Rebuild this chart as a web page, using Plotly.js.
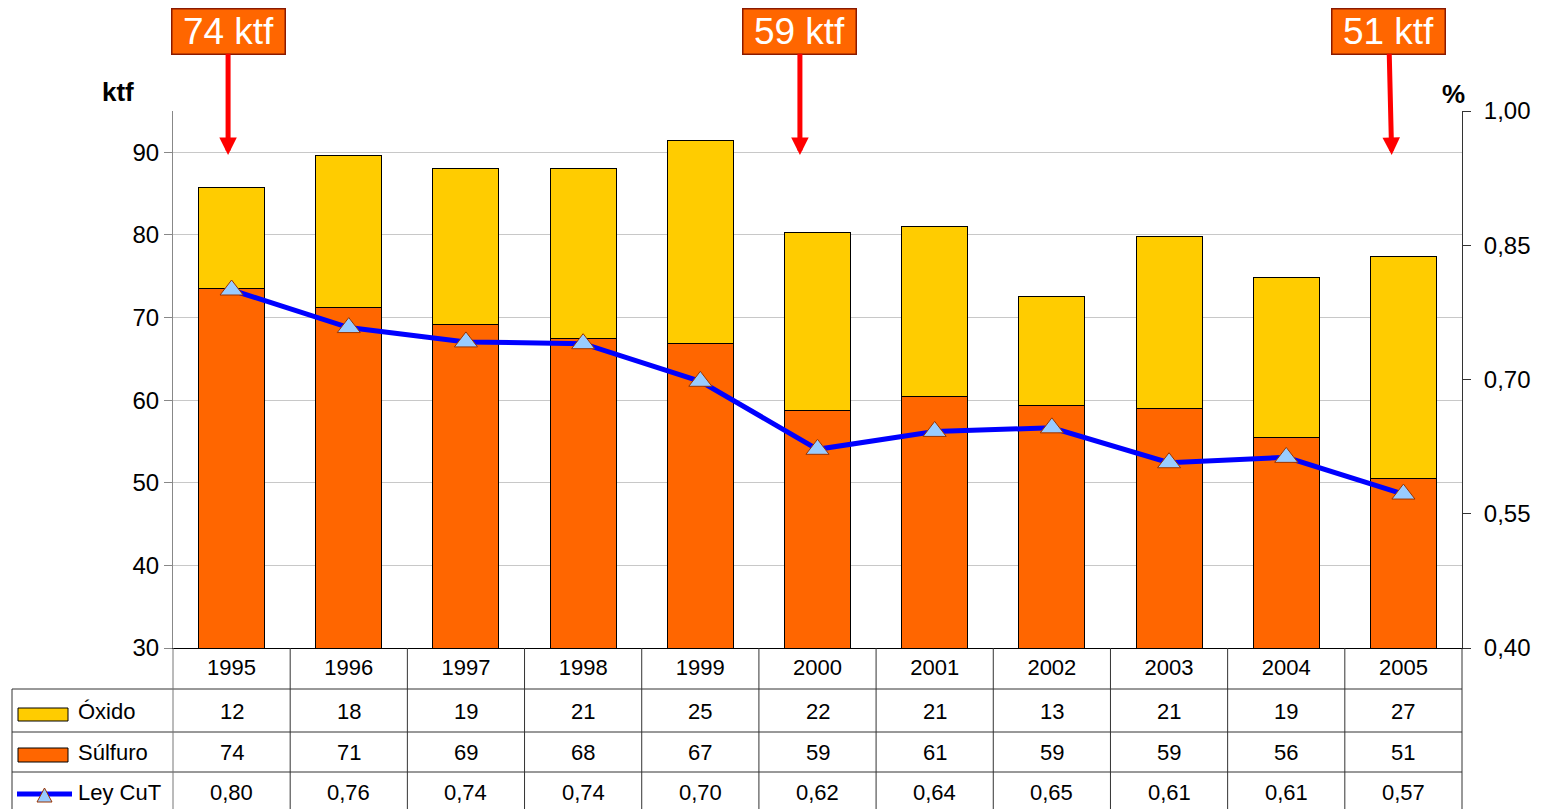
<!DOCTYPE html>
<html>
<head>
<meta charset="utf-8">
<script src="https://cdn.plot.ly/plotly-3.0.1.min.js"></script>
<style>html,body{margin:0;padding:0;background:#fff;}#chart{width:1547px;height:809px;}</style>
</head>
<body>
<div id="chart"></div>
<script>
// ---- data ----
const years = ['1995','1996','1997','1998','1999','2000','2001','2002','2003','2004','2005'];
const sulfuro = [73.5, 71.2, 69.1, 67.5, 66.9, 58.7, 60.5, 59.3, 59.0, 55.5, 50.5];
const oxido   = [12.3, 18.4, 19.0, 20.5, 24.5, 21.6, 20.5, 13.3, 20.8, 19.3, 26.9];
const leyCuT  = [0.800, 0.758, 0.742, 0.740, 0.698, 0.622, 0.642, 0.646, 0.607, 0.613, 0.572];
const seriesNames = ['Óxido', 'Súlfuro', 'Ley CuT'];
const highlightIdx = [0, 5, 10];
const leftTicks = [30, 40, 50, 60, 70, 80, 90];
const rightTicks = [0.40, 0.55, 0.70, 0.85, 1.00];

// ---- geometry helpers (layout only) ----
const W = 1547, H = 809, L = 173, R = 85, T = 111, B = 161;
const pw = W - L - R, ph = H - T - B;
const px = x => (x - L) / pw;
const py = y => (H - B - y) / ph;
const fmt = (v, d) => v.toFixed(d).replace('.', ',');
const FONT = 'Arial, "Liberation Sans", sans-serif';

const traces = [
  {type: 'bar', name: seriesNames[1], x: years, y: sulfuro,
   marker: {color: '#FF6600', line: {color: '#000', width: 1}}, hoverinfo: 'x+y'},
  {type: 'bar', name: seriesNames[0], x: years, y: oxido,
   marker: {color: '#FFCC00', line: {color: '#000', width: 1}}, hoverinfo: 'x+y'},
  {type: 'scatter', mode: 'lines+markers', name: seriesNames[2], x: years, y: leyCuT, yaxis: 'y2',
   line: {color: '#0000FF', width: 5},
   marker: {symbol: 'triangle-up', size: 20, color: '#99CCFF', line: {color: '#993300', width: 1}}}
];

const shapes = [];
const annotations = [];
const lineCol = '#333';
// table horizontal lines
[689, 732, 772].forEach(y => shapes.push({type: 'line', xref: 'paper', yref: 'paper',
  x0: px(12), x1: 1, y0: py(y), y1: py(y), line: {color: lineCol, width: 1}}));
// table vertical lines at category boundaries
for (let i = 0; i <= years.length; i++) {
  shapes.push({type: 'line', xref: 'paper', yref: 'paper', x0: i / years.length, x1: i / years.length,
    y0: 0, y1: py(H + 2), line: {color: i === 0 ? '#777' : lineCol, width: 1}});
}
shapes.push({type: 'line', xref: 'paper', yref: 'paper', x0: px(12), x1: px(12),
  y0: py(689), y1: py(H + 2), line: {color: lineCol, width: 1}});
// legend keys
shapes.push({type: 'rect', xref: 'paper', yref: 'paper', x0: px(18), x1: px(68), y0: py(721), y1: py(708),
  fillcolor: '#FFCC00', line: {color: '#000', width: 1}});
shapes.push({type: 'rect', xref: 'paper', yref: 'paper', x0: px(18), x1: px(68), y0: py(762), y1: py(748),
  fillcolor: '#FF6600', line: {color: '#000', width: 1}});
shapes.push({type: 'line', xref: 'paper', yref: 'paper', x0: px(17), x1: px(72), y0: py(794), y1: py(794),
  line: {color: '#0000FF', width: 5}});
shapes.push({type: 'path', xref: 'paper', yref: 'paper',
  path: `M ${px(37)} ${py(802)} L ${px(44.5)} ${py(788)} L ${px(52)} ${py(802)} Z`,
  fillcolor: '#99CCFF', line: {color: '#993300', width: 1}});

// legend labels
const rowY = [711, 752, 792];
seriesNames.forEach((n, k) => annotations.push({xref: 'paper', yref: 'paper', x: px(76), y: py(rowY[k]),
  xanchor: 'left', yanchor: 'middle', showarrow: false, text: n, font: {size: 22, color: '#000'}}));

// table values
years.forEach((yr, i) => {
  const vals = [fmt(oxido[i], 0), fmt(sulfuro[i], 0), fmt(leyCuT[i], 2)];
  vals.forEach((v, k) => annotations.push({xref: 'x', yref: 'paper', x: i, y: py(rowY[k]),
    xanchor: 'center', yanchor: 'middle', showarrow: false, text: v, font: {size: 22, color: '#000'}}));
});

// axis unit labels
annotations.push({xref: 'paper', yref: 'paper', x: px(118), y: py(92), xanchor: 'center', yanchor: 'middle',
  showarrow: false, text: '<b>ktf</b>', font: {size: 26, color: '#000'}});
annotations.push({xref: 'paper', yref: 'paper', x: px(1453), y: py(94), xanchor: 'center', yanchor: 'middle',
  showarrow: false, text: '<b>%</b>', font: {size: 26, color: '#000'}});

// highlight callouts
const hlOffset = [-0.03, -0.15, -0.1];
const hlAx = [0, 0, -3];
highlightIdx.forEach((idx, k) => annotations.push({xref: 'x', yref: 'paper', x: idx + hlOffset[k], y: py(155),
  text: fmt(sulfuro[idx], 0) + ' ktf', showarrow: true, ax: hlAx[k], ay: -124,
  arrowhead: 2, arrowsize: 0.7, arrowwidth: 5, arrowcolor: '#FF0000',
  bgcolor: '#FF6600', bordercolor: '#8B1A00', borderwidth: 1.5, borderpad: 0,
  width: 112, height: 44, font: {size: 37, color: '#FFFFFF'}}));

const layout = {
  width: W, height: H,
  margin: {l: L, r: R, t: T, b: B, pad: 0},
  paper_bgcolor: '#fff', plot_bgcolor: '#fff',
  font: {family: FONT, size: 22, color: '#000'},
  separators: ',.',
  barmode: 'stack', bargap: 0.437,
  showlegend: false,
  xaxis: {type: 'category', showline: true, linecolor: '#000', linewidth: 1, mirror: false,
    ticks: '', showgrid: false, tickfont: {size: 22}, zeroline: false,
    range: [-0.5, years.length - 0.5]},
  yaxis: {range: [30, 95], tickvals: leftTicks, ticks: 'outside', ticklen: 8, tickcolor: '#888',
    showline: true, linecolor: '#888', linewidth: 1, gridcolor: '#C8C8C8', gridwidth: 1,
    zeroline: false, tickfont: {size: 24}},
  yaxis2: {overlaying: 'y', side: 'right', range: [0.4, 1.0], tickvals: rightTicks,
    ticktext: rightTicks.map(v => fmt(v, 2)), ticks: 'outside', ticklen: 8, tickcolor: '#333',
    showline: true, linecolor: '#333', linewidth: 1, showgrid: false, zeroline: false,
    tickfont: {size: 24}, ticklabelstandoff: 8},
  shapes: shapes,
  annotations: annotations
};

Plotly.newPlot('chart', traces, layout, {displayModeBar: false, staticPlot: true});
</script>
</body>
</html>
